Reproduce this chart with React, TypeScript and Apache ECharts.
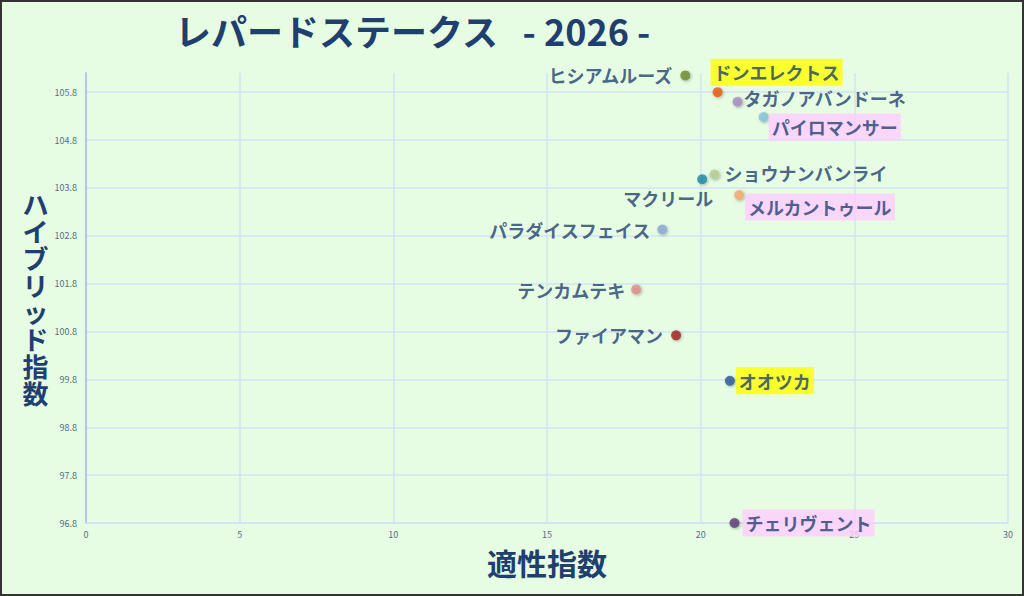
import { useEffect, useRef } from 'react';
import * as echarts from 'echarts';

// horses, x = 適性指数, y = ハイブリッド指数
const horseNames = [
    'ヒシアムルーズ',
    'ドンエレクトス',
    'タガノアバンドーネ',
    'パイロマンサー',
    'ショウナンバンライ',
    'マクリール',
    'メルカントゥール',
    'パラダイスフェイス',
    'テンカムテキ',
    'ファイアマン',
    'オオツカ',
    'チェリヴェント',
];
const aptitude = [19.5, 20.55, 21.2, 22.05, 20.45, 20.05, 21.25, 18.75, 17.9, 19.2, 20.95, 21.1];
const hybrid = [106.15, 105.8, 105.6, 105.28, 104.08, 103.98, 103.65, 102.93, 101.68, 100.72, 99.77, 96.8];
const pointColors = [
    '#6e8b2e', '#e9570c', '#a58bc0', '#7fc4dc', '#b5cc8e', '#1c8aa6',
    '#f7a86e', '#8da7d6', '#de8c8c', '#a3201e', '#2c5796', '#5e3a78',
];

const TITLE = 'レパードステークス   - 2026 -';
const X_NAME = '適性指数';
const Y_NAME = 'ハイブリッド指数';

// label placement per horse: side, offset, highlight
const labelLayout: Record<string, { side: string; offset: number[]; bg?: string }> = {
    'ヒシアムルーズ': { side: 'left', offset: [-3, 0] },
    'ドンエレクトス': { side: 'right', offset: [-17, -20], bg: '#ffff00' },
    'タガノアバンドーネ': { side: 'right', offset: [-4, -4] },
    'パイロマンサー': { side: 'right', offset: [-5, 10], bg: '#ffccff' },
    'ショウナンバンライ': { side: 'right', offset: [0, -1] },
    'マクリール': { side: 'left', offset: [21, 19] },
    'メルカントゥール': { side: 'right', offset: [-4, 12], bg: '#ffccff' },
    'パラダイスフェイス': { side: 'left', offset: [-2, 0] },
    'テンカムテキ': { side: 'left', offset: [-1, 1] },
    'ファイアマン': { side: 'left', offset: [-3, 0] },
    'オオツカ': { side: 'right', offset: [-4, 0], bg: '#ffff00' },
    'チェリヴェント': { side: 'right', offset: [-2, 0], bg: '#ffccff' },
};

const FONT = '"Noto Sans CJK JP", "Noto Sans", sans-serif';
const NAVY = '#1f3f6e';

export default function App() {
    const chartRef = useRef<HTMLDivElement>(null);

    useEffect(() => {
        const myChart = echarts.init(chartRef.current, null, { renderer: 'svg' });

        const points = horseNames.map((name, i) => {
            const lay = labelLayout[name];
            return {
                name,
                value: [aptitude[i], hybrid[i]],
                itemStyle: { color: pointColors[i] },
                label: {
                    position: lay.side,
                    offset: lay.offset,
                    backgroundColor: lay.bg || 'transparent',
                    padding: lay.bg ? [5, 3, 4, 3] : 0,
                },
            };
        });

        myChart.setOption({
            animation: false,
            backgroundColor: '#e6fde3',
            textStyle: { fontFamily: FONT },
            graphic: [
                {
                    type: 'rect',
                    shape: { x: 1, y: 1, width: 1022, height: 594 },
                    style: { fill: 'none', stroke: '#333333', lineWidth: 2 },
                    silent: true,
                },
                {
                    type: 'text',
                    left: 175,
                    top: 12,
                    style: {
                        text: TITLE,
                        fill: NAVY,
                        font: `bold 36px ${FONT}`,
                    },
                },
            ],
            grid: { left: 86, right: 16, top: 73, bottom: 73 },
            xAxis: {
                type: 'value',
                min: 0,
                max: 30,
                interval: 5,
                name: X_NAME,
                nameLocation: 'middle',
                nameGap: 24,
                nameTextStyle: { color: NAVY, fontSize: 30, fontWeight: 'bold', fontFamily: FONT },
                axisLine: { show: true, lineStyle: { color: '#d6e0f3', width: 1.5 } },
                axisTick: { show: false },
                axisLabel: { color: '#5a6b85', fontSize: 9, margin: 7 },
                splitLine: { lineStyle: { color: '#d6e0f3', width: 1.5 } },
            },
            yAxis: {
                type: 'value',
                min: 96.8,
                max: 106.2,
                interval: 1,
                name: Y_NAME.split('').join('\n'),
                nameLocation: 'middle',
                nameRotate: 0,
                nameGap: 40,
                nameTextStyle: {
                    color: NAVY,
                    fontSize: 26,
                    lineHeight: 27,
                    fontWeight: 'bold',
                    fontFamily: FONT,
                    align: 'center',
                },
                axisLine: { show: true, lineStyle: { color: '#b4c8e8', width: 2 } },
                axisTick: { show: false },
                axisLabel: {
                    color: '#5a6b85',
                    fontSize: 9,
                    margin: 9,
                    showMaxLabel: false,
                    formatter: (v: number) => v.toFixed(1),
                },
                splitLine: { showMaxLine: false, lineStyle: { color: '#d6e0f3', width: 1.5 } },
            },
            series: [
                {
                    type: 'scatter',
                    symbolSize: 10,
                    data: points,
                    itemStyle: {
                        shadowBlur: 3,
                        shadowColor: 'rgba(0,0,0,0.35)',
                        shadowOffsetX: 1,
                        shadowOffsetY: 1,
                    },
                    label: {
                        show: true,
                        formatter: '{b}',
                        color: NAVY,
                        fontSize: 18,
                        fontWeight: 'bold',
                        fontFamily: FONT,
                        distance: 5,
                    },
                },
            ],
        });

        return () => {
            myChart.dispose();
        };
    }, []);

    return (
        <div
            ref={chartRef}
            style={{ position: 'fixed', left: 0, top: 0, width: '1024px', height: '596px' }}
        />
    );
}
